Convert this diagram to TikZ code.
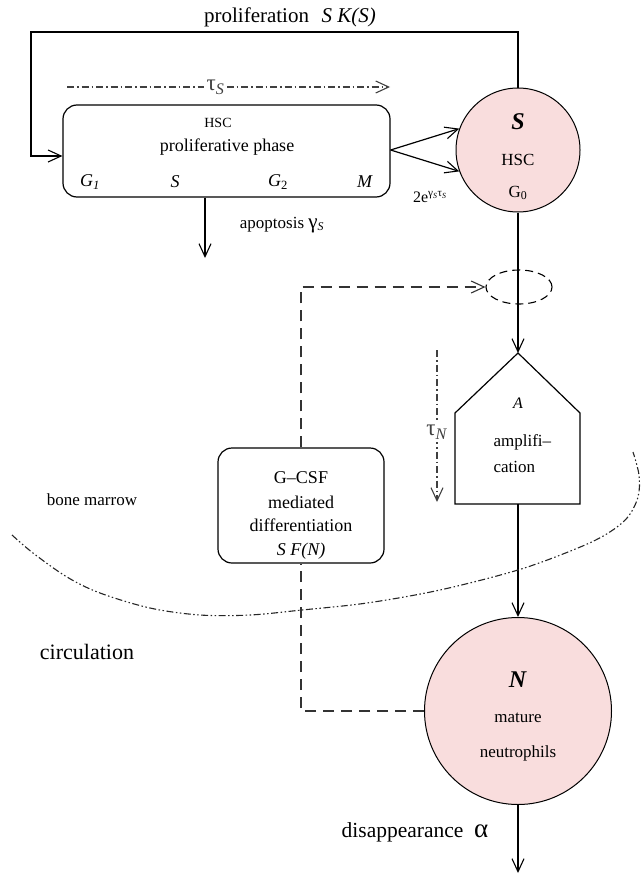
\documentclass[tikz,border=0pt]{standalone}
\usepackage{fontspec}
\setmainfont{Liberation Serif}
\usetikzlibrary{arrows.meta,shapes.geometric}
\definecolor{pinkfill}{RGB}{249,221,221}
\tikzset{
  arr/.style={-{Straight Barb[length=13pt,width=12pt,line width=1.1pt]}},
  dashdotline/.style={line width=1.2pt,black!75,dash pattern=on 7pt off 3pt on 1.5pt off 3pt},
  dashdotdotline/.style={line width=1.1pt,black!85,dash pattern=on 7pt off 2.5pt on 1.5pt off 2.5pt on 1.5pt off 2.5pt},
  dashline/.style={line width=1.2pt,black!80,dash pattern=on 11pt off 7pt},
  roundbox/.style={draw,rounded corners=14pt,inner sep=0pt},
  pool/.style={draw,circle,fill=pinkfill,inner sep=0pt,line width=1pt},
  txt/.style={inner sep=0pt,font=\fontsize{#1}{#1}\selectfont},
  onlab/.style={fill=white,inner sep=3pt,font=\fontsize{23}{23}\selectfont},
}
\begin{document}
\begin{tikzpicture}[x=1pt,y=-1pt,line width=1.2pt]
\useasboundingbox (0,0) rectangle (640,875);

% main shapes
\node[roundbox,minimum width=327pt,minimum height=92pt] (prol) at (226.5,151) {};
\node[pool,minimum size=124pt] (S) at (518,150) {};
\node[draw,dashed,dash pattern=on 8pt off 5pt,ellipse,minimum width=66pt,minimum height=34pt,inner sep=0pt,line width=1.1pt] (gate) at (519,287) {};
\coordinate (Atop) at (518,353);
\coordinate (Abot) at (518,504);
\draw (455,413) -- (Atop) -- (580,413) -- (580,504) -- (455,504) -- cycle;
\node[roundbox,minimum width=166pt,minimum height=115pt] (gcsf) at (301,505.5) {};
\node[pool,minimum size=187pt] (N) at (518,711) {};

% texts
\node[txt=21] (prolab) at (290,17) {proliferation\hspace{0.6em}\textit{S K(S)}};
\node[txt=14] (hscbox) at (218,123) {HSC};
\node[txt=18] (phase) at (227,147) {proliferative phase};
\node[txt=18] (g1) at (90,182) {\textit{G}\textsubscript{\textit{1}}};
\node[txt=18] (sph) at (175,182) {\textit{S}};
\node[txt=18] (g2) at (278,182) {\textit{G}\textsubscript{2}};
\node[txt=18] (mph) at (365,182) {\textit{M}};
\node[txt=24] (slab) at (518,122) {\textbf{\textit{S}}};
\node[txt=17] (hsc) at (518,160) {HSC};
\node[txt=17] (g0) at (518,193) {G\textsubscript{0}};
\node[txt=16] (amp) at (430,197) {2e\textsuperscript{γ\textsubscript{\textit{S}}τ\textsubscript{\textit{S}}}};
\node[txt=17] (apolab) at (282,225) {apoptosis {\fontsize{21}{21}\selectfont γ}\textsubscript{\textit{S}}};
\node[txt=16] (alab) at (518,403) {\textit{A}};
\node[txt=17,anchor=west] (amp1) at (493,442) {amplifi–};
\node[txt=17,anchor=west] (amp2) at (493,467) {cation};
\node[txt=18] (gc1) at (301,478) {G–CSF};
\node[txt=18] (gc2) at (301,502) {mediated};
\node[txt=18] (gc3) at (301,525) {differentiation};
\node[txt=18] (gc4) at (301,551) {\textit{S F(N)}};
\node[txt=17] (bm) at (92,500) {bone marrow};
\node[txt=22] (circ) at (87,652) {circulation};
\node[txt=24] (nlab) at (518,680) {\textbf{\textit{N}}};
\node[txt=17] (mat) at (518,718) {mature};
\node[txt=17] (neu) at (518,753) {neutrophils};
\node[txt=21.5] (dis) at (415,832) {disappearance\hspace{0.5em}{\fontsize{27}{27}\selectfont α}};

% connectors
\coordinate (tr) at (518,32);
\coordinate (tl) at (31,32);
\draw[arr] (S.north) -- (tr) -- (tl) |- ([yshift=-5pt]prol.west);
\draw[arr] ([yshift=1pt]prol.east) -- (S.160);
\draw[arr] ([yshift=1pt]prol.east) -- (S.200);
\coordinate (apoend) at (205,258);
\draw[arr] (prol.south -| apoend) -- (apoend);
\coordinate (ts1) at (67,87);
\coordinate (ts2) at (390,87);
\draw[dashdotline,arr] (ts1) -- node[onlab,pos=0.46] (taus) {τ\textsubscript{\textit{S}}} (ts2);
\draw[arr] (S.south) -- (Atop);
\draw[dashline] (N.west) -| (gcsf.south);
\draw[dashline,arr] (gcsf.north) |- (gate.west);
\draw[arr] (Abot) -- (N.north);
\coordinate (outN) at (518,873);
\draw[arr] (N.south) -- (outN);
\coordinate (tn1) at (437,350);
\coordinate (tn2) at (437,502);
\draw[dashdotline,arr] (tn1) -- node[onlab,pos=0.54,inner xsep=1pt] (taun) {τ\textsubscript{\textit{N}}} (tn2);

% bone marrow / circulation boundary
\draw[dashdotdotline] plot[smooth,tension=0.55] coordinates {(12,535) (33,553) (67,577) (100,593) (150,608) (200,615) (250,615) (302,610) (367,603) (440,590) (518,570) (573,550) (605,535) (627,518) (638,497) (639,475) (633,452)};
\end{tikzpicture}
\end{document}
